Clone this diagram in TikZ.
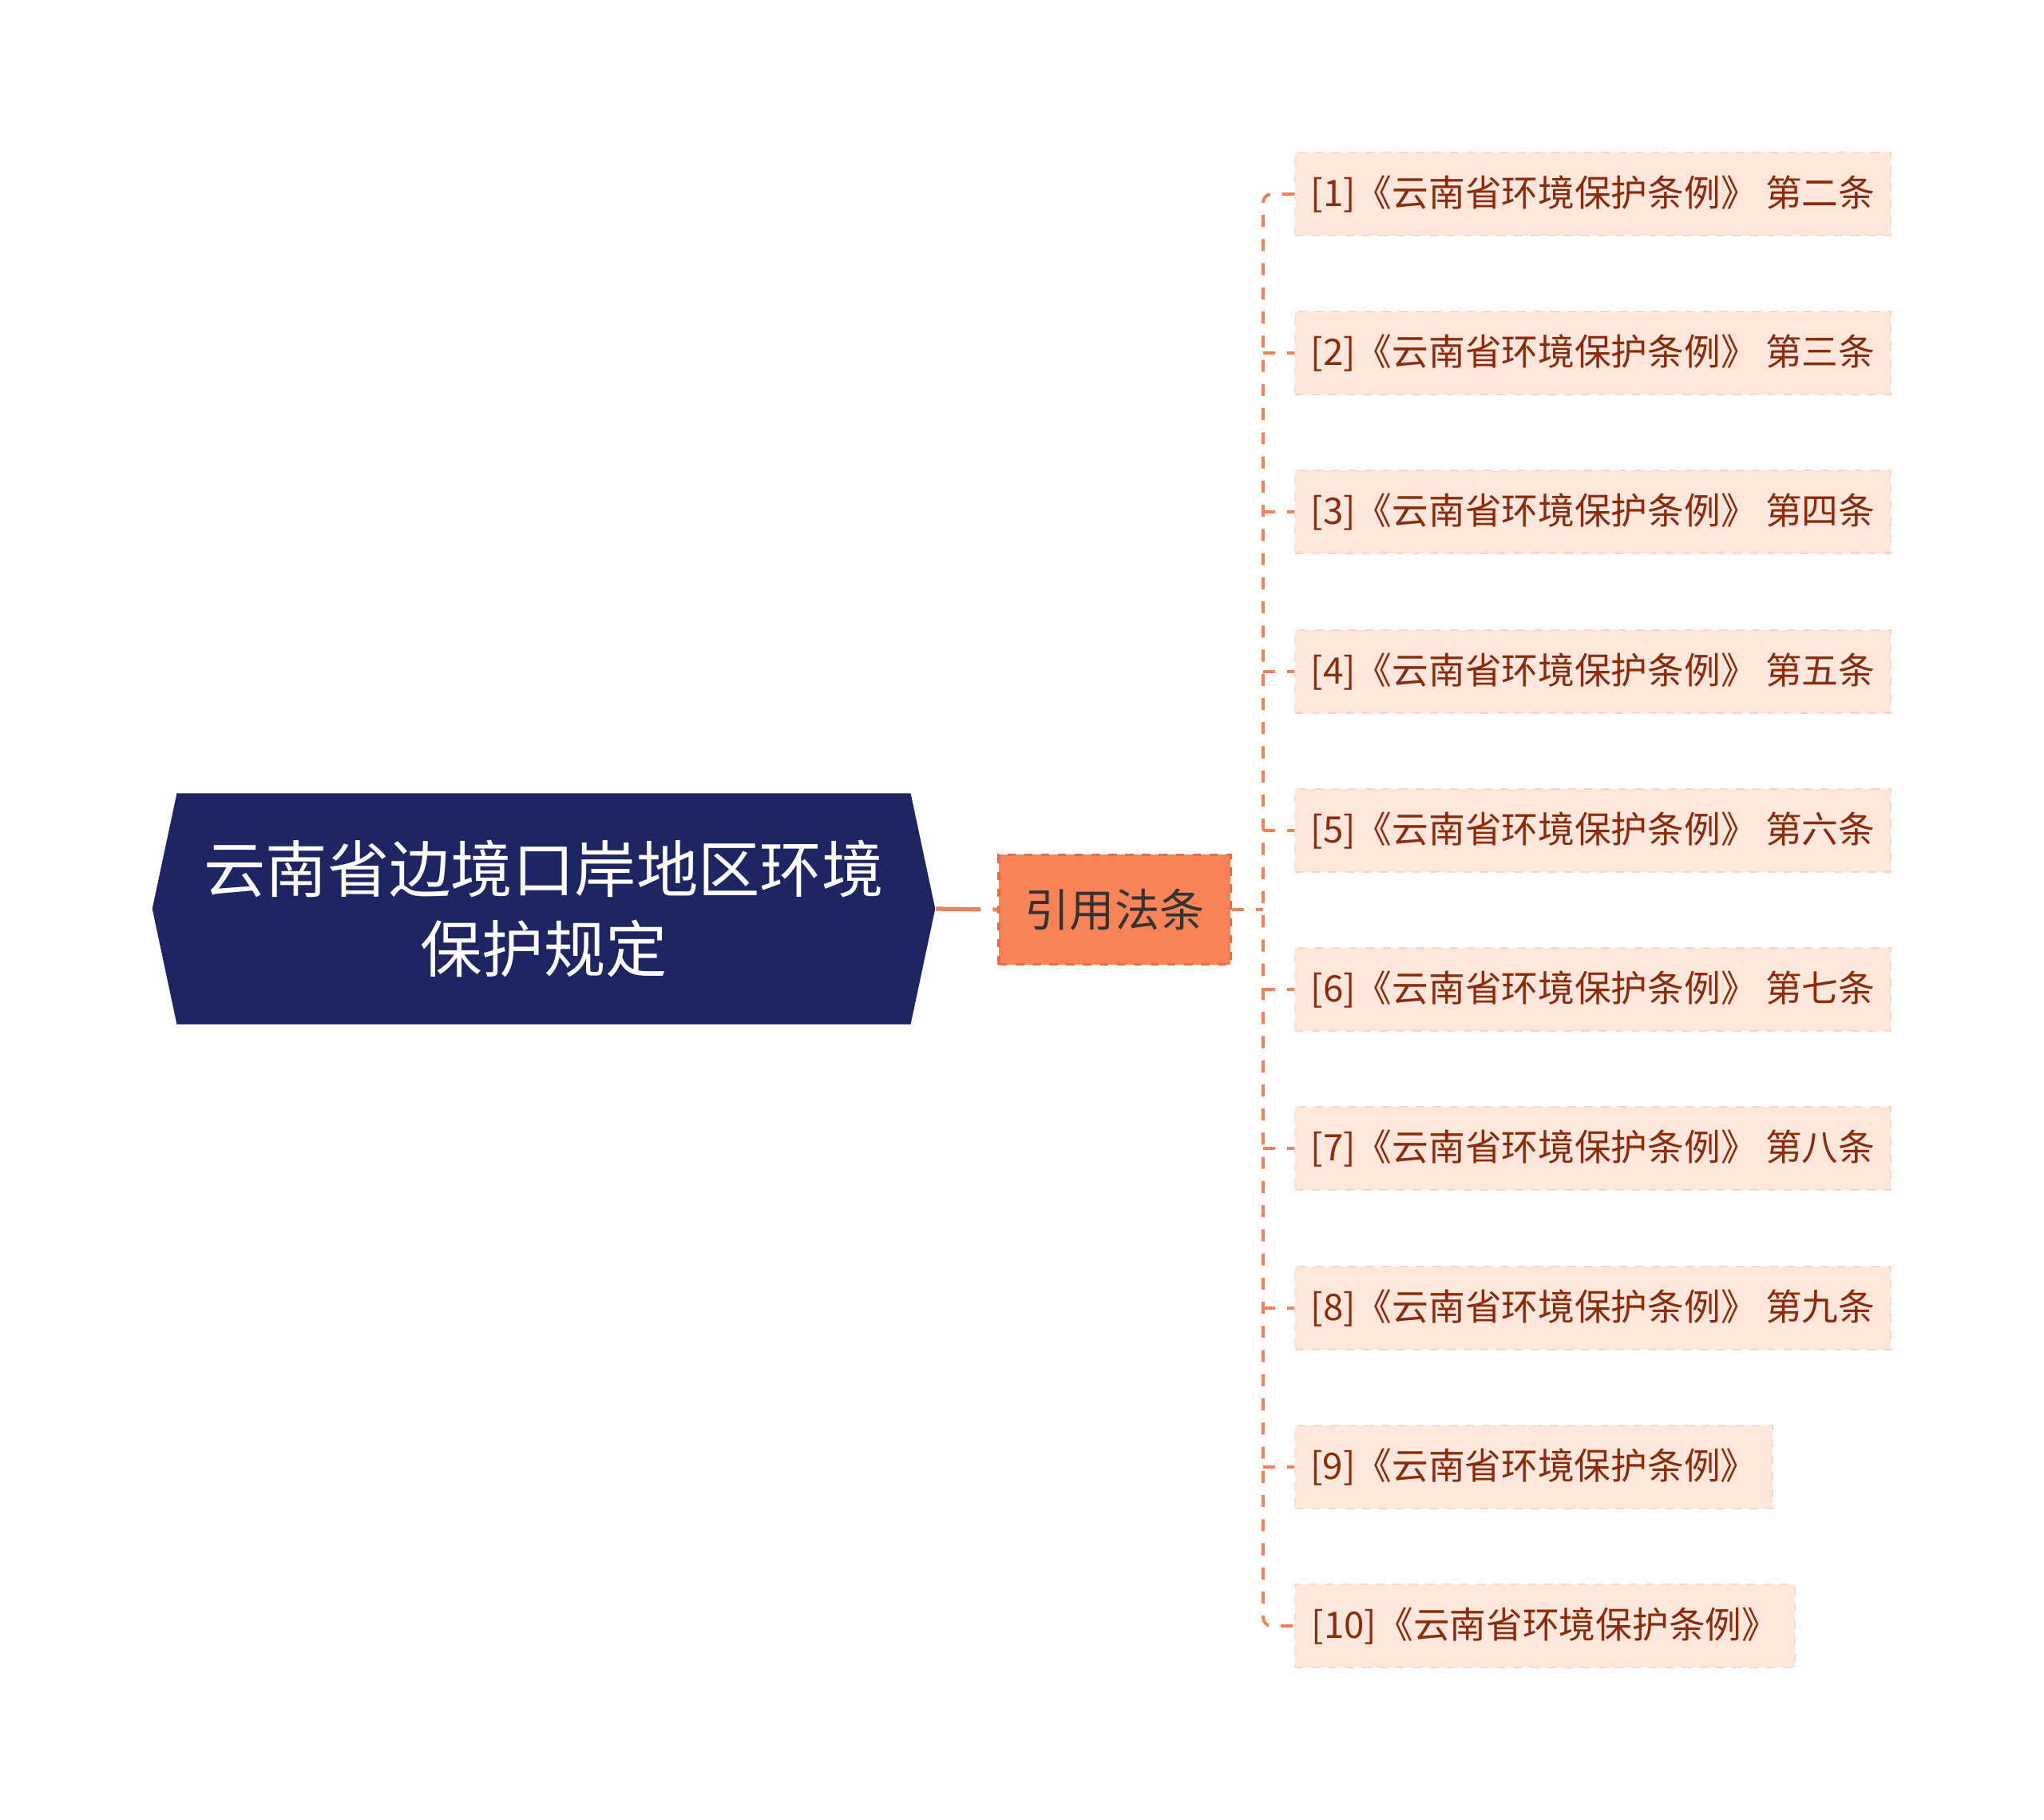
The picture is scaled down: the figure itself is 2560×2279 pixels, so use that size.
\documentclass[tikz,border=0pt]{standalone}
\usepackage{fontspec}
\setmainfont{Noto Sans CJK SC}
\usepackage{tikz}
\usetikzlibrary{positioning,shapes.symbols}

\definecolor{rootblue}{RGB}{31,37,99}
\definecolor{midorange}{RGB}{247,131,87}
\definecolor{midedge}{RGB}{234,108,68}
\definecolor{leaffill}{RGB}{253,230,220}
\definecolor{leafedge}{RGB}{248,214,200}
\definecolor{leaftext}{RGB}{140,42,12}
\definecolor{linkcol}{RGB}{240,130,90}

\begin{document}
\begin{tikzpicture}[x=0.01cm, y=-0.01cm,
    root/.style={shape=signal, signal to=west and east, signal pointer angle=156,
        fill=rootblue, text=white, minimum width=9.8cm, minimum height=2.89cm,
        inner sep=0pt, align=center, font=\fontsize{22}{28.7}\selectfont},
    mid/.style={draw=midedge, line width=0.9pt, dashed, fill=midorange, text={rgb,255:red,51;green,51;blue,51},
        minimum width=2.9cm, minimum height=1.37cm, inner sep=0pt,
        font=\fontsize{16}{19}\selectfont},
    leaf/.style={draw=leafedge, dashed, fill=leaffill, text=leaftext, anchor=west,
        minimum height=1.04cm, inner sep=0pt, font=\fontsize{13}{15}\selectfont},
    link/.style={draw=linkcol, line width=1.1pt, dash pattern=on 4.3pt off 4.3pt},
    rootlink/.style={draw=linkcol, line width=1.5pt, dash pattern=on 16pt off 4.3pt on 2.4pt off 0pt}]
        \useasboundingbox (0,0) rectangle (2560,2279);

        \node[root] (root) at (681,1138) {云南省边境口岸地区环境\\保护规定};
        \node[mid] (mid) at (1396,1139) {引用法条};

        \node[leaf, minimum width=7.46cm] (l1) at (1621,243) {[1]《云南省环境保护条例》 第二条};
        \node[leaf, minimum width=7.46cm] (l2) at (1621,442) {[2]《云南省环境保护条例》 第三条};
        \node[leaf, minimum width=7.46cm] (l3) at (1621,641) {[3]《云南省环境保护条例》 第四条};
        \node[leaf, minimum width=7.46cm] (l4) at (1621,841) {[4]《云南省环境保护条例》 第五条};
        \node[leaf, minimum width=7.46cm] (l5) at (1621,1040) {[5]《云南省环境保护条例》 第六条};
        \node[leaf, minimum width=7.46cm] (l6) at (1621,1239) {[6]《云南省环境保护条例》 第七条};
        \node[leaf, minimum width=7.46cm] (l7) at (1621,1438) {[7]《云南省环境保护条例》 第八条};
        \node[leaf, minimum width=7.46cm] (l8) at (1621,1638) {[8]《云南省环境保护条例》 第九条};
        \node[leaf, minimum width=5.98cm] (l9) at (1621,1837) {[9]《云南省环境保护条例》};
        \node[leaf, minimum width=6.26cm] (l10) at (1621,2036) {[10]《云南省环境保护条例》};

        \coordinate (fork) at (1582,1139);

        \draw[rootlink] (root.east) -- (mid.west);
        \draw[link] (mid.east) -- (fork);
        \draw[link, rounded corners=3pt] (l1.west) -| (fork) |- (l10.west);
        \draw[link] (fork |- l2.west) -- (l2.west);
        \draw[link] (fork |- l3.west) -- (l3.west);
        \draw[link] (fork |- l4.west) -- (l4.west);
        \draw[link] (fork |- l5.west) -- (l5.west);
        \draw[link] (fork |- l6.west) -- (l6.west);
        \draw[link] (fork |- l7.west) -- (l7.west);
        \draw[link] (fork |- l8.west) -- (l8.west);
        \draw[link] (fork |- l9.west) -- (l9.west);

    \end{tikzpicture}
\end{document}
